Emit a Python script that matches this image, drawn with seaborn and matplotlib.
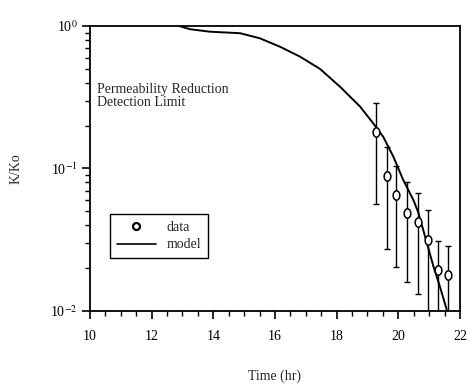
import numpy as np
import pandas as pd
import matplotlib
matplotlib.use("Agg")
import matplotlib.pyplot as plt
import seaborn as sns
from matplotlib.lines import Line2D
from matplotlib.path import Path

# data
data_time = [19.27, 19.62, 19.91, 20.29, 20.63, 20.95, 21.30, 21.62]
data_k = [0.18, 0.0885, 0.065, 0.049, 0.0423, 0.0315, 0.0194, 0.0179]
data_upper = [0.287, 0.142, 0.104, 0.0808, 0.067, 0.051, 0.031, 0.0287]
data_lower = [0.056, 0.0274, 0.0203, 0.0161, 0.0132, 0.005, 0.005, 0.005]

model_time = [12.9, 13.24, 13.89, 14.87, 15.51, 16.16, 16.81, 17.46, 18.11,
              18.76, 19.19, 19.51, 19.84, 20.16, 20.49, 20.65, 20.87, 21.14,
              21.35, 21.51, 21.57]
model_k = [1.0, 0.95, 0.912, 0.89, 0.82, 0.716, 0.61, 0.50, 0.375,
           0.272, 0.207, 0.167, 0.121, 0.083, 0.060, 0.049, 0.0332, 0.0205,
           0.0148, 0.0113, 0.0102]

x_ticks = [10, 12, 14, 16, 18, 20, 22]

sns.set_theme(style="white")
plt.rcParams['font.family'] = ['Liberation Serif', 'DejaVu Serif']
plt.rcParams['mathtext.fontset'] = 'stix'

fig = plt.figure(figsize=(4.73, 3.88), dpi=100)
ax = fig.add_axes([0.190, 0.1985, 0.7825, 0.7345])

dfm = pd.DataFrame({"t": model_time, "k": model_k})
dfd = pd.DataFrame({"t": data_time, "k": data_k})

# slightly tall elliptical marker like the reference
th = np.linspace(0, 2 * np.pi, 41)
ellipse = Path(np.column_stack([0.72 * np.cos(th), np.sin(th)]), closed=True)

sns.lineplot(data=dfm, x="t", y="k", ax=ax, color="black", linewidth=1.4,
             legend=False)
k = np.array(data_k)
yerr = [k - np.array(data_lower), np.array(data_upper) - k]
ax.errorbar(data_time, data_k, yerr=yerr, fmt="none", ecolor="black",
            elinewidth=1.0, capsize=2.5, capthick=1.0, zorder=3)
sns.scatterplot(data=dfd, x="t", y="k", ax=ax, marker=ellipse, s=45,
                facecolor="white", edgecolor="black", linewidth=1.1,
                zorder=4, legend=False)

ax.set_yscale("log")
ax.set_ylim(0.01, 1.0)
ax.set_xlim(10, 22)
ax.set_xticks(x_ticks)
ax.set_xticklabels([str(v) for v in x_ticks], fontsize=10)
ax.set_xticks(np.arange(10, 22.01, 0.5), minor=True)
ax.set_yticks([0.01, 0.1, 1.0])
ax.set_yticklabels([r"10$^{-2}$", r"10$^{-1}$", r"10$^{0}$"], fontsize=10)

ax.tick_params(axis="both", which="major", direction="out", length=6,
               width=1.2, color="black", labelcolor="black")
ax.tick_params(axis="both", which="minor", direction="out", length=3.5,
               width=1.0, color="black")
ax.tick_params(axis="x", which="both", bottom=True, top=False, pad=8)
ax.tick_params(axis="y", which="both", left=True, right=False, pad=3)

for sp in ax.spines.values():
    sp.set_color("black")
    sp.set_linewidth(1.3)

ax.set_xlabel("Time (hr)", fontsize=10, labelpad=19)
ax.set_ylabel("K/Ko", fontsize=10, labelpad=20)
ax.grid(False)

ax.text(0.02, 0.80, "Permeability Reduction\nDetection Limit",
        transform=ax.transAxes, fontsize=10, va="top", ha="left",
        linespacing=1.05)

handles = [
    Line2D([], [], linestyle="none", marker="o", markersize=5,
           markerfacecolor="white", markeredgecolor="black",
           markeredgewidth=1.6),
    Line2D([], [], color="black", linewidth=1.2),
]
leg = ax.legend(handles, ["data", "model"], loc="lower left",
                bbox_to_anchor=(0.035, 0.16), fontsize=10, frameon=True,
                fancybox=False, edgecolor="black", framealpha=1,
                handlelength=2.8, borderpad=0.5, labelspacing=0.3)
leg.get_frame().set_linewidth(1.0)

fig.savefig("out.png", dpi=100)
